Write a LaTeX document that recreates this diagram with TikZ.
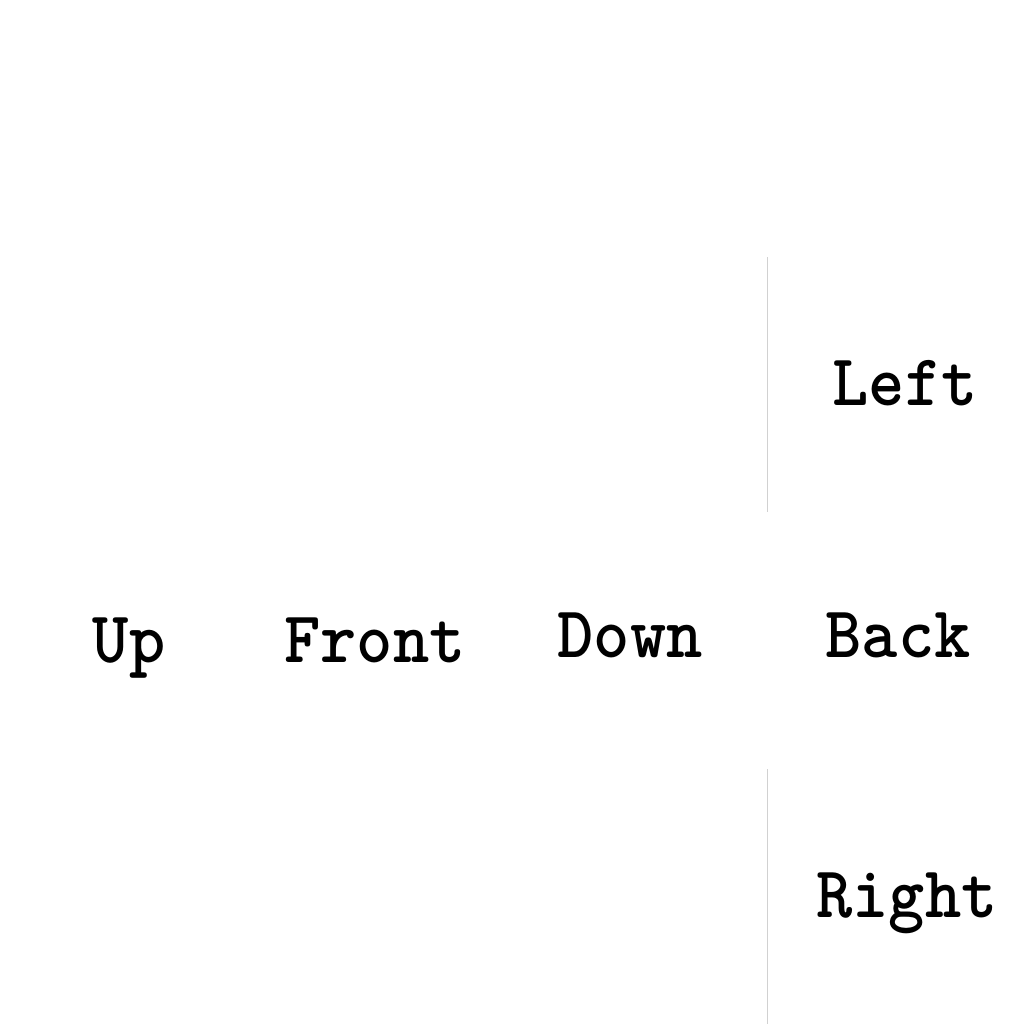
\documentclass[tikz,border=0pt]{standalone}
\usepackage{fontspec}
\begin{document}
\begin{tikzpicture}[x=1pt,y=-1pt,
  lbl/.style={anchor=base,inner sep=0pt,font=\ttfamily\bfseries\fontsize{69}{69}\selectfont,yscale=1.06},
  sep/.style={draw=black!18,line width=1pt}]
\useasboundingbox[fill=white] (0,0) rectangle (1024,1024);
\coordinate (a1) at (767,257);
\coordinate (a2) at (767,512);
\coordinate (b1) at (767,769);
\coordinate (b2) at (767,1024);
\draw[sep] (a1) -- (a2);
\draw[sep] (b1) -- (b2);
\node[lbl] (left) at (905,405) {Left};
\node[lbl] (up) at (129,662) {Up};
\node[lbl] (front) at (375,662) {Front};
\node[lbl] (down) at (630,657) {Down};
\node[lbl] (back) at (898,657) {Back};
\node[lbl] (right) at (907,917) {Right};
\end{tikzpicture}
\end{document}
